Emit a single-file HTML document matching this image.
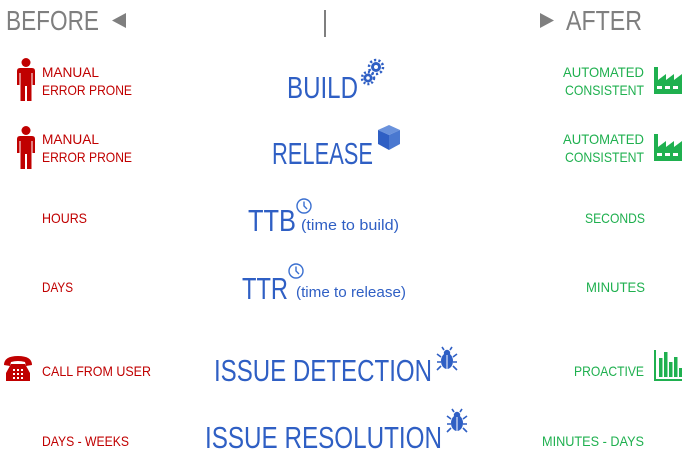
<!DOCTYPE html>
<html><head><meta charset="utf-8"><style>
html,body{margin:0;padding:0;background:#fff;}
svg{display:block;font-family:"Liberation Sans",sans-serif;}
</style></head><body>
<svg width="700" height="456" viewBox="0 0 700 456" xmlns="http://www.w3.org/2000/svg">
<defs>
<g id="person" fill="#c00000">
  <circle cx="9" cy="4.5" r="4.5"/>
  <path d="M3,10 H15 Q18,10 18,13 V27 H15.5 V15 H14.5 V43 H10 V28 H8 V43 H3.5 V15 H2.5 V27 H0 V13 Q0,10 3,10 Z"/>
</g>
<g id="factory" fill="#1fb04f">
  <path d="M0,0 H4 V13 L12,7 V13 L20,7 V13 L28,7 V27 H0 Z"/>
  <rect x="3" y="19" width="5" height="3" fill="#fff"/>
  <rect x="11" y="19" width="5" height="3" fill="#fff"/>
  <rect x="19" y="19" width="5" height="3" fill="#fff"/>
</g>
<g id="clock" fill="none" stroke="#3a6fd0" stroke-width="1.4">
  <circle cx="8" cy="8" r="7"/>
  <path d="M8,3.5 V8 L11,11"/>
</g>
<g id="bug" fill="#2f5fc4">
  <ellipse cx="10" cy="13" rx="6" ry="8"/>
  <circle cx="10" cy="5" r="3.2"/>
  <path d="M7,2 L5,-1 M13,2 L15,-1 M4,9 L0,6 M16,9 L20,6 M4,14 H0 M16,14 H20 M4,18 L0,22 M16,18 L20,22" stroke="#2f5fc4" stroke-width="1.6"/>
  <path d="M10,7 V21" stroke="#fff" stroke-width="1"/>
</g>
</defs>

<!-- header -->
<text x="6" y="30" font-size="28" fill="#7f7f7f" textLength="93" lengthAdjust="spacingAndGlyphs">BEFORE</text>
<polygon points="126,13 126,28 112,20.5" fill="#7f7f7f"/>
<rect x="324" y="10" width="2" height="27" fill="#7f7f7f"/>
<polygon points="540,13 540,28 554,20.5" fill="#7f7f7f"/>
<text x="566" y="30" font-size="28" fill="#7f7f7f" textLength="76" lengthAdjust="spacingAndGlyphs">AFTER</text>

<!-- row 1 -->
<use href="#person" x="17" y="58"/>
<text x="42" y="77" font-size="14" fill="#c00000" textLength="57" lengthAdjust="spacingAndGlyphs">MANUAL</text>
<text x="42" y="95" font-size="14" fill="#c00000" textLength="90" lengthAdjust="spacingAndGlyphs">ERROR PRONE</text>
<text x="287" y="98" font-size="31" fill="#2f5fc4" textLength="71" lengthAdjust="spacingAndGlyphs">BUILD</text>
<g fill="#2f5fc4">
  <circle cx="376" cy="67" r="5"/>
  <circle cx="376" cy="67" r="7" fill="none" stroke="#2f5fc4" stroke-width="2.5" stroke-dasharray="2.2 2.2"/>
  <circle cx="376" cy="67" r="2" fill="#fff"/>
  <circle cx="368" cy="78" r="4.5"/>
  <circle cx="368" cy="78" r="6" fill="none" stroke="#2f5fc4" stroke-width="2.5" stroke-dasharray="2 2"/>
  <circle cx="368" cy="78" r="1.8" fill="#fff"/>
</g>
<text x="563" y="77" font-size="14" fill="#1fb04f" textLength="81" lengthAdjust="spacingAndGlyphs">AUTOMATED</text>
<text x="565" y="95" font-size="14" fill="#1fb04f" textLength="79" lengthAdjust="spacingAndGlyphs">CONSISTENT</text>
<use href="#factory" x="654" y="67"/>

<!-- row 2 -->
<use href="#person" x="17" y="126"/>
<text x="42" y="144" font-size="14" fill="#c00000" textLength="57" lengthAdjust="spacingAndGlyphs">MANUAL</text>
<text x="42" y="162" font-size="14" fill="#c00000" textLength="90" lengthAdjust="spacingAndGlyphs">ERROR PRONE</text>
<text x="272" y="164" font-size="31" fill="#2f5fc4" textLength="101" lengthAdjust="spacingAndGlyphs">RELEASE</text>
<g>
  <polygon points="389,125 400,130 389,135 378,130" fill="#6a92dc"/>
  <polygon points="378,130 389,135 389,150 378,144" fill="#2f5fc4"/>
  <polygon points="389,135 400,130 400,144 389,150" fill="#4a78d0"/>
</g>
<text x="563" y="144" font-size="14" fill="#1fb04f" textLength="81" lengthAdjust="spacingAndGlyphs">AUTOMATED</text>
<text x="565" y="162" font-size="14" fill="#1fb04f" textLength="79" lengthAdjust="spacingAndGlyphs">CONSISTENT</text>
<use href="#factory" x="654" y="134"/>

<!-- row 3 -->
<text x="42" y="223" font-size="14" fill="#c00000" textLength="45" lengthAdjust="spacingAndGlyphs">HOURS</text>
<text x="248" y="231" font-size="31" fill="#2f5fc4" textLength="48" lengthAdjust="spacingAndGlyphs">TTB</text>
<use href="#clock" x="296" y="198"/>
<text x="301" y="230" font-size="15" fill="#2f5fc4" textLength="98" lengthAdjust="spacingAndGlyphs">(time to build)</text>
<text x="585" y="223" font-size="14" fill="#1fb04f" textLength="60" lengthAdjust="spacingAndGlyphs">SECONDS</text>

<!-- row 4 -->
<text x="42" y="292" font-size="14" fill="#c00000" textLength="31" lengthAdjust="spacingAndGlyphs">DAYS</text>
<text x="242" y="299" font-size="31" fill="#2f5fc4" textLength="46" lengthAdjust="spacingAndGlyphs">TTR</text>
<use href="#clock" x="288" y="263"/>
<text x="296" y="297" font-size="15" fill="#2f5fc4" textLength="110" lengthAdjust="spacingAndGlyphs">(time to release)</text>
<text x="586" y="292" font-size="14" fill="#1fb04f" textLength="59" lengthAdjust="spacingAndGlyphs">MINUTES</text>

<!-- row 5 -->
<g fill="#c00000">
  <path d="M4,365 Q4,356 18,356 Q32,356 32,365 L26,366 L25,362 Q18,360 11,362 L10,366 Z"/>
  <path d="M11,364 H25 L30,373 V381 H6 V373 Z"/>
  <g fill="#fff"><rect x="13" y="369" width="2" height="2"/><rect x="17" y="369" width="2" height="2"/><rect x="21" y="369" width="2" height="2"/><rect x="13" y="373" width="2" height="2"/><rect x="17" y="373" width="2" height="2"/><rect x="21" y="373" width="2" height="2"/><rect x="13" y="377" width="2" height="2"/><rect x="17" y="377" width="2" height="2"/><rect x="21" y="377" width="2" height="2"/></g>
</g>
<text x="42" y="376" font-size="14" fill="#c00000" textLength="109" lengthAdjust="spacingAndGlyphs">CALL FROM USER</text>
<text x="214" y="381" font-size="31" fill="#2f5fc4" textLength="218" lengthAdjust="spacingAndGlyphs">ISSUE DETECTION</text>
<use href="#bug" x="437" y="348"/>
<text x="574" y="376" font-size="14" fill="#1fb04f" textLength="70" lengthAdjust="spacingAndGlyphs">PROACTIVE</text>
<g fill="#1fb04f">
  <rect x="654" y="350" width="2" height="31"/>
  <rect x="654" y="379" width="28" height="2"/>
  <rect x="659" y="358" width="3.5" height="19"/>
  <rect x="664" y="352" width="3.5" height="25"/>
  <rect x="669" y="362" width="3.5" height="15"/>
  <rect x="674" y="357" width="3.5" height="20"/>
  <rect x="679" y="368" width="3" height="9"/>
</g>

<!-- row 6 -->
<text x="42" y="446" font-size="14" fill="#c00000" textLength="87" lengthAdjust="spacingAndGlyphs">DAYS - WEEKS</text>
<text x="205" y="448" font-size="31" fill="#2f5fc4" textLength="237" lengthAdjust="spacingAndGlyphs">ISSUE RESOLUTION</text>
<use href="#bug" x="447" y="410"/>
<text x="542" y="446" font-size="14" fill="#1fb04f" textLength="102" lengthAdjust="spacingAndGlyphs">MINUTES - DAYS</text>
</svg>
</body></html>
